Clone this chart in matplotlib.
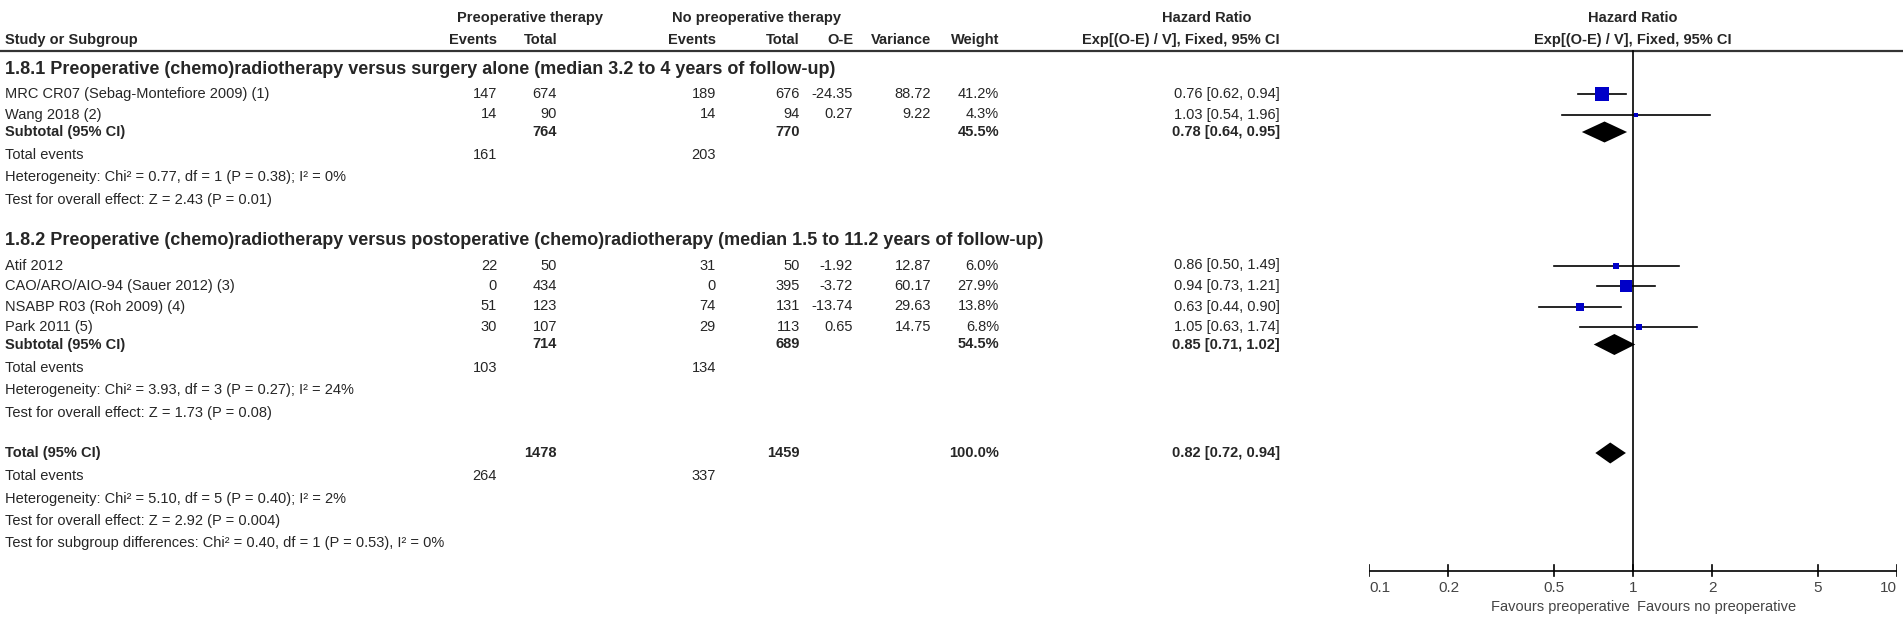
"""Forest plot: preoperative vs no preoperative therapy, hazard ratios (O-E / V, fixed)."""
import matplotlib.pyplot as plt
import numpy as np
from matplotlib.patches import Polygon

plt.rcParams["font.family"] = ["Liberation Sans Narrow", "Liberation Sans", "DejaVu Sans"]

W, H = 1903, 640
TEXT = "#262626"
BLUE = "#0000c8"

# ---- data -------------------------------------------------------------------
groups = [
    "1.8.1 Preoperative (chemo)radiotherapy versus surgery alone (median 3.2 to 4 years of follow-up)",
    "1.8.2 Preoperative (chemo)radiotherapy versus postoperative (chemo)radiotherapy (median 1.5 to 11.2 years of follow-up)",
]
study_group = [0, 0, 1, 1, 1, 1]
studies = [
    "MRC CR07 (Sebag-Montefiore 2009) (1)",
    "Wang 2018 (2)",
    "Atif 2012",
    "CAO/ARO/AIO-94 (Sauer 2012) (3)",
    "NSABP R03 (Roh 2009) (4)",
    "Park 2011 (5)",
]
pre_events = [147, 14, 22, 0, 51, 30]
pre_total = [674, 90, 50, 434, 123, 107]
no_events = [189, 14, 31, 0, 74, 29]
no_total = [676, 94, 50, 395, 131, 113]
o_minus_e = [-24.35, 0.27, -1.92, -3.72, -13.74, 0.65]
variance = [88.72, 9.22, 12.87, 60.17, 29.63, 14.75]
weight = [41.2, 4.3, 6.0, 27.9, 13.8, 6.8]
hr = [0.76, 1.03, 0.86, 0.94, 0.63, 1.05]
hr_lo = [0.62, 0.54, 0.50, 0.73, 0.44, 0.63]
hr_hi = [0.94, 1.96, 1.49, 1.21, 0.90, 1.74]

# subgroup totals, then overall
sub_pre_total = [764, 714, 1478]
sub_no_total = [770, 689, 1459]
sub_pre_events = [161, 103, 264]
sub_no_events = [203, 134, 337]
sub_weight = [45.5, 54.5, 100.0]
sub_hr = [0.78, 0.85, 0.82]
sub_lo = [0.64, 0.71, 0.72]
sub_hi = [0.95, 1.02, 0.94]
sub_het = [
    "Heterogeneity: Chi² = 0.77, df = 1 (P = 0.38); I² = 0%",
    "Heterogeneity: Chi² = 3.93, df = 3 (P = 0.27); I² = 24%",
    "Heterogeneity: Chi² = 5.10, df = 5 (P = 0.40); I² = 2%",
]
sub_z = [
    "Test for overall effect: Z = 2.43 (P = 0.01)",
    "Test for overall effect: Z = 1.73 (P = 0.08)",
    "Test for overall effect: Z = 2.92 (P = 0.004)",
]
subgroup_diff = "Test for subgroup differences: Chi² = 0.40, df = 1 (P = 0.53), I² = 0%"

ticks = [0.1, 0.2, 0.5, 1, 2, 5, 10]
tick_labels = ["0.1", "0.2", "0.5", "1", "2", "5", "10"]

# ---- layout (pixels) --------------------------------------------------------
X_LEFT = 5
COL_R = {"ev1": 497, "tot1": 557, "ev2": 716, "tot2": 800, "oe": 853,
         "var": 931, "wt": 999, "hr": 1280}
PLOT_X0, PLOT_X1 = 1369, 1897
ROW = 20.5
FS = 10.5

fig = plt.figure(figsize=(W / 100, H / 100), dpi=100)
ax = fig.add_axes([0, 0, 1, 1])
ax.set_xlim(0, W)
ax.set_ylim(H, 0)
ax.axis("off")

fax = fig.add_axes([PLOT_X0 / W, 0, (PLOT_X1 - PLOT_X0) / W, 1])
fax.set_xscale("log")
fax.set_xlim(0.1, 10)
fax.set_ylim(H, 0)
fax.axis("off")


def txt(x, y, s, ha="left", bold=False, size=FS, color=TEXT):
    ax.text(x, y, s, ha=ha, va="center", fontsize=size, color=color,
            fontweight="bold" if bold else "normal")


# column headers
txt(530, 18, "Preoperative therapy", ha="center", bold=True)
txt(756, 18, "No preoperative therapy", ha="center", bold=True)
txt(1207, 18, "Hazard Ratio", ha="center", bold=True)
fax.text(1, 18, "Hazard Ratio", ha="center", va="center", fontsize=FS,
         color=TEXT, fontweight="bold")
y_hdr = 40
txt(X_LEFT, y_hdr, "Study or Subgroup", bold=True)
for key, label in [("ev1", "Events"), ("tot1", "Total"), ("ev2", "Events"),
                   ("tot2", "Total"), ("oe", "O-E"), ("var", "Variance"),
                   ("wt", "Weight"), ("hr", "Exp[(O-E) / V], Fixed, 95% CI")]:
    txt(COL_R[key], y_hdr, label, ha="right", bold=True)
fax.text(1, y_hdr, "Exp[(O-E) / V], Fixed, 95% CI", ha="center", va="center",
         fontsize=FS, color=TEXT, fontweight="bold")
ax.plot([0, W], [51, 51], color="#333333", lw=1.6)


def draw_diamond(y, mid, lo, hi, h=21):
    fax.add_patch(Polygon([(lo, y), (mid, y - h / 2), (hi, y), (mid, y + h / 2)],
                          closed=True, color="black", lw=0))


def summary_block(y, g, label):
    txt(X_LEFT, y, label, bold=True)
    txt(COL_R["tot1"], y, str(sub_pre_total[g]), ha="right", bold=True)
    txt(COL_R["tot2"], y, str(sub_no_total[g]), ha="right", bold=True)
    txt(COL_R["wt"], y, f"{sub_weight[g]:.1f}%", ha="right", bold=True)
    txt(COL_R["hr"], y, f"{sub_hr[g]:.2f} [{sub_lo[g]:.2f}, {sub_hi[g]:.2f}]",
        ha="right", bold=True)
    draw_diamond(y, sub_hr[g], sub_lo[g], sub_hi[g])
    y += 23
    txt(X_LEFT, y, "Total events")
    txt(COL_R["ev1"], y, str(sub_pre_events[g]), ha="right")
    txt(COL_R["ev2"], y, str(sub_no_events[g]), ha="right")
    y += 22.5
    txt(X_LEFT, y, sub_het[g])
    y += 22.5
    txt(X_LEFT, y, sub_z[g])
    return y


y = 69
for g, title in enumerate(groups):
    txt(X_LEFT, y, title, bold=True, size=13)
    y += 25
    for i in [k for k, sg in enumerate(study_group) if sg == g]:
        txt(X_LEFT, y, studies[i])
        txt(COL_R["ev1"], y, str(pre_events[i]), ha="right")
        txt(COL_R["tot1"], y, str(pre_total[i]), ha="right")
        txt(COL_R["ev2"], y, str(no_events[i]), ha="right")
        txt(COL_R["tot2"], y, str(no_total[i]), ha="right")
        txt(COL_R["oe"], y, f"{o_minus_e[i]:.2f}", ha="right")
        txt(COL_R["var"], y, f"{variance[i]:.2f}", ha="right")
        txt(COL_R["wt"], y, f"{weight[i]:.1f}%", ha="right")
        txt(COL_R["hr"], y, f"{hr[i]:.2f} [{hr_lo[i]:.2f}, {hr_hi[i]:.2f}]", ha="right")
        fax.plot([hr_lo[i], hr_hi[i]], [y, y], color="black", lw=1.2)
        side = max(2.3 * np.sqrt(weight[i]), 4.5)
        fax.plot(hr[i], y, marker="s", ms=side * 0.72, color=BLUE, mec=BLUE, mew=0)
        y += ROW
    y -= 3
    y = summary_block(y, g, "Subtotal (95% CI)")
    y += 40.5

y = summary_block(y, 2, "Total (95% CI)")
y += 22.5
txt(X_LEFT, y, subgroup_diff)

# reference line and axis
AXIS_Y = 571
fax.plot([1, 1], [51, AXIS_Y], color="black", lw=1.2)
fax.plot([0.1, 10], [AXIS_Y, AXIS_Y], color="black", lw=1.2)
for t, lab in zip(ticks, tick_labels):
    fax.plot([t, t], [AXIS_Y - 6, AXIS_Y + 5], color="black", lw=1.2)
    ha = "left" if t == ticks[0] else ("right" if t == ticks[-1] else "center")
    fax.text(t, AXIS_Y + 17, lab, ha=ha, va="center", fontsize=FS + 0.5, color="#444444")
fax.text(0.97, AXIS_Y + 36, "Favours preoperative", ha="right", va="center",
         fontsize=FS, color="#444444")
fax.text(1.035, AXIS_Y + 36, "Favours no preoperative", ha="left", va="center",
         fontsize=FS, color="#444444")

fig.savefig("out.png", dpi=100, facecolor="white")
